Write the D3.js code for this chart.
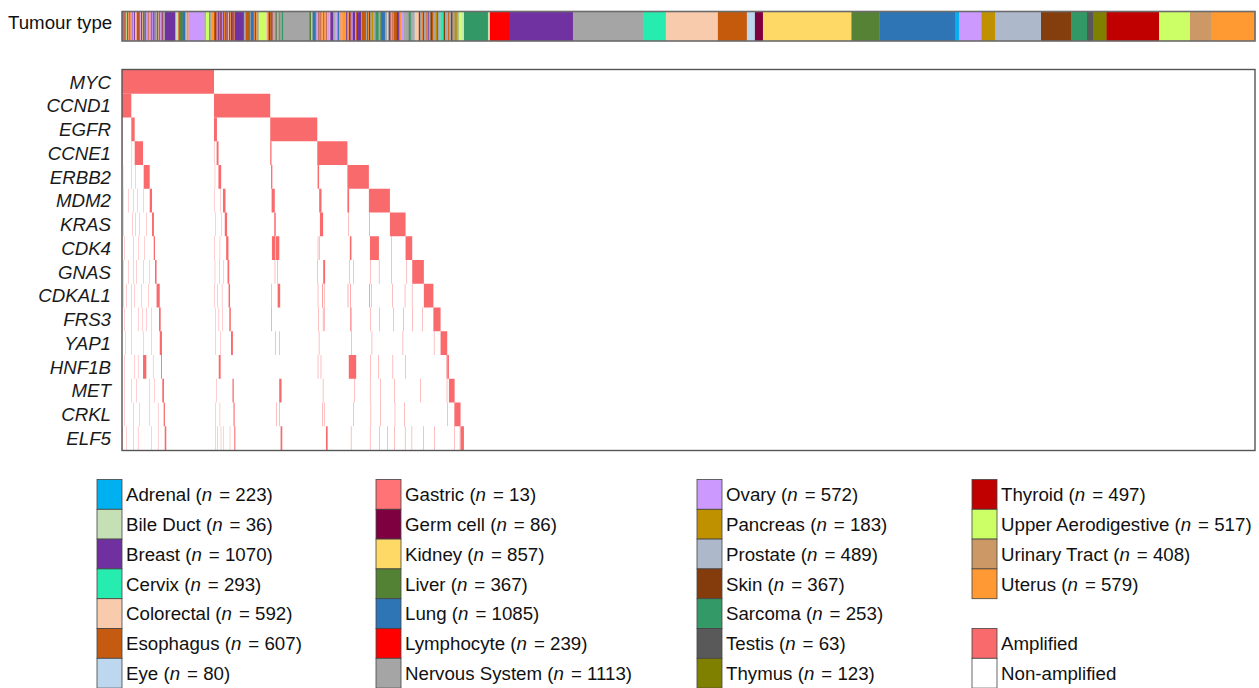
<!DOCTYPE html>
<html>
<head>
<meta charset="utf-8">
<script src="https://cdn.jsdelivr.net/npm/d3@7"></script>
<style>
  html, body { margin: 0; padding: 0; background: #fff; }
  svg { display: block; font-family: "Liberation Sans", Arial, sans-serif; }
</style>
</head>
<body>
<svg id="chart" width="1259" height="688"></svg>
<script>
// ---- tumour types ----
const tumourTypes = ["Adrenal", "Bile Duct", "Breast", "Cervix", "Colorectal", "Esophagus", "Eye",
  "Gastric", "Germ cell", "Kidney", "Liver", "Lung", "Lymphocyte", "Nervous System",
  "Ovary", "Pancreas", "Prostate", "Skin", "Sarcoma", "Testis", "Thymus",
  "Thyroid", "Upper Aerodigestive", "Urinary Tract", "Uterus"];
const tumourCodes = ["Ad", "BD", "Br", "Ce", "Co", "Es", "Ey", "Ga", "GC", "Ki", "Li", "Lu", "Ly", "NS",
  "Ov", "Pa", "Pr", "Sk", "Sa", "Te", "Ty", "Td", "UA", "UT", "Ut"];
const tumourCounts = [223, 36, 1070, 293, 592, 607, 80, 13, 86, 857, 367, 1085, 239, 1113,
  572, 183, 489, 367, 253, 63, 123, 497, 517, 408, 579];
const tumourColours = ["#00b0f0", "#c5e0b4", "#7030a0", "#26ecb0", "#f8cbad", "#c55a11", "#bdd7ee",
  "#ff7275", "#7f0041", "#ffd966", "#548235", "#2e75b6", "#ff0000", "#a5a5a5",
  "#cc99ff", "#bf9000", "#adb9ca", "#843c0c", "#339966", "#595959", "#808000",
  "#c00000", "#ccff66", "#cc9966", "#ff9933"];

// ---- genes (rows) ----
const genes = ["MYC", "CCND1", "EGFR", "CCNE1", "ERBB2", "MDM2", "KRAS", "CDK4", "GNAS",
  "CDKAL1", "FRS3", "YAP1", "HNF1B", "MET", "CRKL", "ELF5"];

// Sample order along the x axis: samples carrying an amplification first (grouped by the
// first amplified gene), then the non-amplified samples grouped by tumour type.
// Each run: [tumour code, number of consecutive samples]
const amplifiedTypeRuns = [
  // MYC
  ["Br",8],["Ut",7],["Br",6],["Es",6],["Ov",7],["Br",7],["UA",8],["Br",8],["Ut",7],["Ov",7],["Br",7],["Ut",6],
  ["Co",8],["Br",7],["Ov",8],["Ut",7],["Br",8],["Co",7],["Ov",7],["Ut",8],["Br",6],["Es",9],["Br",7],["Ut",7],
  ["Ov",7],["Br",8],["Pr",6],["Ut",7],["Br",7],["Lu",6],["Ut",7],["Br",8],["Ov",7],["Co",7],["Br",7],["Ut",7],
  ["Ov",14],["Ut",7],["Br",7],["Ov",7],["Br",8],["Pr",8],["Br",8],["Ut",7],["NS",8],["Br",7],["Ut",7],["NS",8],
  ["Br",8],["Ov",7],["Ut",7],["Es",8],["Br",8],["Ut",7],["NS",8],["Br",10],
  ["Br",85],["Ce",10],["BD",8],["Co",14],["Es",12],["Li",28],["Lu",28],["Co",10],["NS",10],["Ut",8],
  ["Ov",150],["NS",14],["UA",30],["Pa",10],["NS",10],["Ut",27],
  // CCND1
  ["Es",10],["Br",14],["Ut",12],
  ["Br",10],["Ut",7],["Br",9],["Es",7],["Br",10],["Ov",7],["Br",8],["Ut",7],["Es",8],["Br",10],["Ut",7],["Br",9],
  ["Co",8],["Br",10],["Ut",7],["Br",9],["Es",7],["Br",10],["Ut",9],["Br",11],
  ["Br",76],["NS",19],["Es",28],["Li",10],["NS",9],["Lu",28],["Ut",10],["Br",10],["Ut",8],["NS",19],["UA",66],
  ["Co",14],["Ut",14],["Sk",15],
  // EGFR
  ["Es",12],["Br",10],["Ut",16],["NS",12],["Li",12],["Ov",10],["NS",14],["Li",10],["NS",14],["Sa",14],
  ["NS",246],["Li",19],["Ki",10],["Lu",28],["Li",9],["Ov",9],
  // CCNE1
  ["Ov",6],["Ut",6],["Br",8],["Ov",6],["Ut",6],["Br",6],["Ov",6],["Ut",7],["Co",6],
  ["Br",8],["Ut",8],["Ov",8],["Ut",7],["Br",7],["Co",7],["Ov",7],["Ut",7],["Co",7],
  ["Br",28],["NS",14],["Pr",14],["Ov",14],["Lu",14],["Ov",7],["Ut",7],["Ov",7],["Ut",7],["Ut",38],["Br",12],
  // ERBB2
  ["Ov",7],["Ut",7],["Br",14],["Es",10],["Ut",6],["Ov",6],["Br",12],["Br",10],["Ut",10],["Es",8],
  ["Br",38],["NS",9],["Es",38],["NS",10],["Li",10],["Ut",8],
  // MDM2
  ["Sk",14],["NS",14],["Pa",14],["NS",20],["Sa",30],["NS",16],["Li",16],["Lu",28],["NS",19],["Ki",10],["NS",9],["Br",9],
  // KRAS
  ["Ut",6],["Br",6],["Ov",8],["Ut",6],["Br",6],["NS",6],["Es",28],["Sk",12],["Br",12],["Ut",14],["Ov",28],["NS",16],
  // CDK4
  ["NS",30],["Sa",18],["NS",15],
  // GNAS
  ["NS",14],["Pr",10],["Co",38],["Sk",14],["NS",14],["Ut",10],["Br",10],
  // CDKAL1
  ["NS",20],["Ut",7],["Br",7],["Ov",6],["Br",6],["NS",16],["Sk",14],["Es",14],
  // FRS3
  ["NS",20],["Pa",14],["Li",10],["NS",14],["Pr",10],
  // YAP1
  ["Ce",30],["Sk",12],["NS",21],
  // HNF1B
  ["NS",8],["Es",8],
  // MET
  ["NS",20],["Sk",14],["NS",20],
  // CRKL
  ["Pa",20],["NS",18],["UA",18],
  // ELF5
  ["UA",16],["BD",8],["UA",8]
];

const nonAmplifiedTypeRuns = [
  ["Sa",227],["BD",19],["Ly",180],["Br",605],["NS",662],["Ce",217],["Co",492],["Es",274],["Ey",76],["GC",76],
  ["Ki",837],["Li",264],["Lu",715],["Ad",38],["Ov",213],["Pa",128],["Pr",435],["Sk",284],["Sa",151],["Te",57],
  ["Ty",128],["Td",496],["UA",293],["UT",199],["Ut",416]
];

// Amplified samples per gene, as [first sample index, number of samples]
const amplifiedRuns = [
  /* MYC */    [[0,870]],
  /* CCND1 */  [[0,88],[870,532]],
  /* EGFR */   [[3,3],[88,32],[870,28],[1402,445]],
  /* CCNE1 */  [[5,3],[92,3],[120,79],[876,3],[895,18],[1402,12],[1847,285]],
  /* ERBB2 */  [[8,3],[90,3],[126,3],[205,57],[878,3],[912,26],[1410,12],[1850,14],[2132,203]],
  /* MDM2 */   [[10,3],[57,3],[104,3],[142,3],[199,3],[262,22],[876,3],[930,3],[955,24],[1415,30],[1865,22],
                [2132,16],[2335,199]],
  /* KRAS */   [[10,3],[95,3],[126,3],[167,3],[230,3],[284,18],[880,3],[940,3],[972,22],[1440,14],[1872,30],
                [2140,4],[2340,5],[2534,148]],
  /* CDK4 */   [[25,3],[104,3],[158,3],[214,3],[300,12],[875,3],[925,3],[985,22],[1418,29],[1452,36],[1852,4],
                [1868,4],[2155,15],[2345,85],[2545,4],[2682,63]],
  /* GNAS */   [[10,3],[57,3],[104,3],[136,3],[199,3],[262,3],[312,15],[878,3],[920,3],[960,3],[998,16],
                [1445,4],[1470,4],[1848,4],[1903,18],[2150,4],[2185,4],[2350,4],[2430,4],[2545,4],[2692,4],
                [2745,110]],
  /* CDKAL1 */ [[10,3],[41,3],[88,3],[120,3],[183,3],[246,3],[327,30],[876,3],[905,3],[945,3],[1008,14],
                [1410,4],[1472,24],[1852,4],[1895,6],[1910,4],[2135,5],[2160,5],[2338,6],[2355,4],[2555,4],
                [2675,4],[2742,4],[2855,90]],
  /* FRS3 */   [[25,3],[88,3],[151,3],[189,3],[230,3],[277,3],[350,16],[880,3],[915,3],[950,3],[1015,14],
                [1412,5],[1858,4],[1900,5],[1915,4],[2160,10],[2350,4],[2432,4],[2565,4],[2660,4],[2745,4],
                [2840,4],[2945,68]],
  /* YAP1 */   [[32,3],[88,3],[199,3],[277,3],[357,21],[880,3],[930,3],[1031,18],[1450,4],[1485,4],[1862,4],
                [2170,4],[2362,4],[2655,4],[2950,4],[3013,63]],
  /* HNF1B */  [[25,3],[120,3],[151,3],[199,31],[293,3],[370,8],[915,18],[1852,4],[1880,4],[2145,70],
                [2350,4],[2425,4],[2560,4],[2680,4],[3070,4],[3076,16]],
  /* MET */    [[25,3],[88,3],[136,3],[262,3],[309,3],[381,16],[890,3],[1045,12],[1487,22],[1900,4],[2200,4],
                [2345,4],[2440,4],[2575,4],[2820,4],[3072,4],[3092,54]],
  /* CRKL */   [[25,3],[104,3],[167,3],[262,3],[340,3],[394,12],[885,3],[925,3],[1055,10],[1460,4],[1490,4],
                [1895,4],[1910,4],[2190,4],[2352,4],[2445,4],[2580,4],[2668,4],[3075,4],[3140,4],[3146,56]],
  /* ELF5 */   [[0,3],[41,3],[104,3],[151,3],[277,3],[340,3],[404,15],[880,3],[905,3],[935,3],[960,3],
                [1020,3],[1062,10],[1500,16],[1929,16],[2165,4],[2345,4],[2435,4],[2510,4],[2575,4],[2676,4],
                [2740,4],[2850,4],[2955,4],[3140,4],[3195,4],[3202,32]]
];

const statusLabels = ["Amplified", "Non-amplified"];
const statusColours = ["#f96a6d", "#ffffff"];

// ---- drawing ----
const svg = d3.select("#chart");
const fontSize = 18.7;
const colourOf = d3.scaleOrdinal().domain(tumourCodes).range(tumourColours);

// soft horizontal smoothing for the densely packed sample columns
const defs = svg.append("defs");
defs.append("filter").attr("id", "soft-bar")
  .attr("x", "-1%").attr("y", "0%").attr("width", "102%").attr("height", "100%")
  .append("feGaussianBlur").attr("stdDeviation", "0.6 0");
defs.append("filter").attr("id", "soft-cells")
  .attr("x", "-1%").attr("y", "0%").attr("width", "102%").attr("height", "100%")
  .append("feGaussianBlur").attr("stdDeviation", "0.35 0");

const typeRuns = amplifiedTypeRuns.concat(nonAmplifiedTypeRuns);
let acc = 0;
const typeSegments = typeRuns.map(([code, n]) => { const s = { code, start: acc, n }; acc += n; return s; });
const totalSamples = acc;

const x = d3.scaleLinear().domain([0, totalSamples]).range([122, 1255]);
const y = d3.scaleBand().domain(genes).range([70, 450]);

// Tumour type bar
const barTop = 11.5, barBottom = 41;
svg.append("text")
  .attr("x", 8).attr("y", 29)
  .attr("font-size", fontSize).attr("fill", "#111")
  .text("Tumour type");

svg.append("g").attr("filter", "url(#soft-bar)").selectAll("rect")
  .data(typeSegments)
  .join("rect")
  .attr("x", d => x(d.start))
  .attr("width", d => x(d.start + d.n) - x(d.start) + 0.35)
  .attr("y", barTop)
  .attr("height", barBottom - barTop)
  .attr("fill", d => colourOf(d.code));

svg.append("rect")
  .attr("x", x(0)).attr("y", barTop)
  .attr("width", x(totalSamples) - x(0)).attr("height", barBottom - barTop)
  .attr("fill", "none").attr("stroke", "#6b6b6b").attr("stroke-width", 1.6);

// Amplification matrix
const cells = [];
amplifiedRuns.forEach((runs, gi) => runs.forEach(([start, n]) => cells.push({ gene: genes[gi], start, n })));

svg.append("g").attr("filter", "url(#soft-cells)").selectAll("rect")
  .data(cells)
  .join("rect")
  .attr("x", d => x(d.start))
  .attr("width", d => x(d.start + d.n) - x(d.start))
  .attr("y", d => y(d.gene))
  .attr("height", y.bandwidth())
  .attr("fill", statusColours[0]);

svg.append("rect")
  .attr("x", x(0)).attr("y", 69.5)
  .attr("width", x(totalSamples) - x(0)).attr("height", 450.5 - 69.5)
  .attr("fill", "none").attr("stroke", "#555").attr("stroke-width", 1.4);

// Gene labels
svg.append("g").selectAll("text")
  .data(genes)
  .join("text")
  .attr("x", 111)
  .attr("y", d => y(d) + y.bandwidth() / 2)
  .attr("dy", "0.36em")
  .attr("text-anchor", "end")
  .attr("font-size", fontSize)
  .attr("font-style", "italic")
  .attr("fill", "#1a1a1a")
  .text(d => d);

// Legend
const legendCols = [97, 376, 697, 972];
const legendTop = 479.5, rowH = 29.8, swW = 25;
const legendItems = tumourTypes.map((name, i) => ({
  name, n: tumourCounts[i], colour: tumourColours[i],
  col: i < 21 ? Math.floor(i / 7) : 3, row: i < 21 ? i % 7 : i - 21
}));
statusLabels.forEach((name, i) => legendItems.push({ name, colour: statusColours[i], col: 3, row: 5 + i }));

const lg = svg.append("g").selectAll("g")
  .data(legendItems)
  .join("g")
  .attr("transform", d => `translate(${legendCols[d.col]},${legendTop + d.row * rowH})`);

lg.append("rect")
  .attr("width", swW).attr("height", rowH)
  .attr("fill", d => d.colour)
  .attr("stroke", "#444").attr("stroke-width", 0.8);

const lt = lg.append("text")
  .attr("x", swW + 4)
  .attr("y", rowH / 2)
  .attr("dy", "0.36em")
  .attr("font-size", fontSize)
  .attr("fill", "#111");

lt.each(function (d) {
  const t = d3.select(this);
  if (d.n === undefined) { t.text(d.name); return; }
  t.append("tspan").text(d.name + " (");
  t.append("tspan").attr("font-style", "italic").text("n");
  t.append("tspan").attr("dx", 7).text("= " + d.n + ")");
});
</script>
</body>
</html>
